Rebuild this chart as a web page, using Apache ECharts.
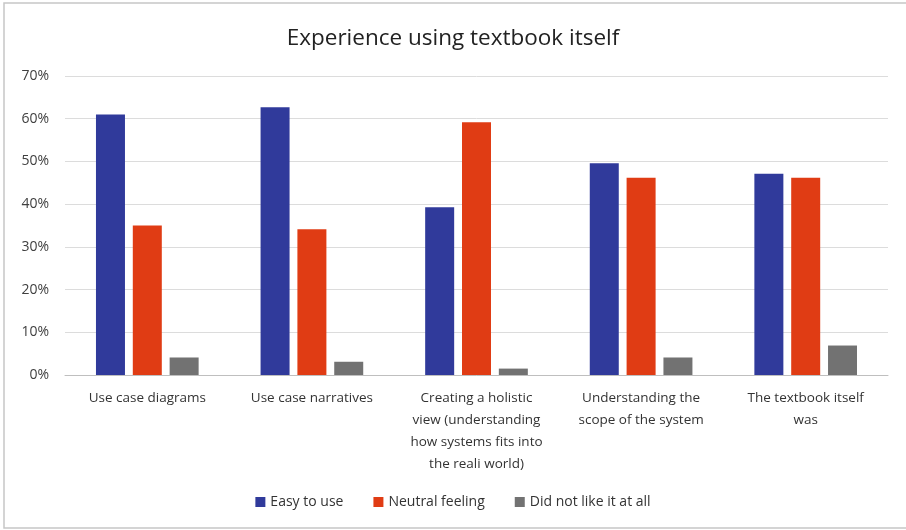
<!DOCTYPE html>
<html>
<head>
<meta charset="utf-8">
<script src="https://cdn.jsdelivr.net/npm/echarts@6/dist/echarts.min.js"></script>
<style>
  html, body { margin: 0; padding: 0; background: #ffffff; }
  #chart { width: 906px; height: 530px; }
</style>
</head>
<body>
<div id="chart"></div>
<script>
// Survey aspects (x-axis categories)
const categories = [
  'Use case diagrams',
  'Use case narratives',
  'Creating a holistic\nview (understanding\nhow systems fits into\nthe reali world)',
  'Understanding the\nscope of the system',
  'The textbook itself\nwas'
];

// Share of respondents per answer, in percent
const easyToUse = [61, 62.7, 39.3, 49.6, 47.1];
const neutralFeeling = [35, 34.1, 59.2, 46.2, 46.2];
const didNotLike = [4.1, 3.1, 1.5, 4.1, 6.9];

// Y-axis ticks, in percent
const yTicks = [0, 10, 20, 30, 40, 50, 60, 70];

const seriesNames = ['Easy to use', 'Neutral feeling', 'Did not like it at all'];
const seriesColors = ['#303a9b', '#e03c14', '#727272'];
const seriesData = [easyToUse, neutralFeeling, didNotLike];

const FONT = "'Open Sans', 'Liberation Sans', sans-serif";

const chart = echarts.init(document.getElementById('chart'), null, { renderer: 'canvas' });

chart.setOption({
  animation: false,
  backgroundColor: '#ffffff',
  graphic: [{
    type: 'rect',
    shape: { x: 4, y: 3, width: 910, height: 525 },
    style: { fill: 'none', stroke: '#c6c6c6', lineWidth: 1.5 },
    silent: true
  }],
  title: {
    text: 'Experience using textbook itself',
    left: 'center',
    top: 22,
    textStyle: { fontFamily: FONT, fontSize: 22.5, fontWeight: 'normal', color: '#222222' }
  },
  legend: {
    bottom: 16,
    left: 'center',
    itemWidth: 10,
    itemHeight: 10,
    itemGap: 30,
    icon: 'rect',
    textStyle: { fontFamily: FONT, fontSize: 14, color: '#333333' },
    data: seriesNames
  },
  grid: { left: 65, right: 18, top: 76, bottom: 155, containLabel: false },
  xAxis: {
    type: 'category',
    data: categories,
    axisLine: { lineStyle: { color: '#bfbfbf', width: 1 } },
    axisTick: { show: false },
    axisLabel: {
      interval: 0,
      margin: 12,
      fontFamily: FONT,
      fontSize: 13.5,
      lineHeight: 22,
      color: '#333333',
      align: 'center'
    }
  },
  yAxis: {
    type: 'value',
    min: yTicks[0],
    max: yTicks[yTicks.length - 1],
    interval: yTicks[1] - yTicks[0],
    axisLine: { show: false },
    axisTick: { show: false },
    splitLine: { lineStyle: { color: '#dcdcdc', width: 1 } },
    axisLabel: {
      margin: 16,
      fontFamily: FONT,
      fontSize: 14,
      color: '#404040',
      formatter: v => v + '%'
    }
  },
  series: seriesNames.map((name, i) => ({
    name: name,
    type: 'bar',
    data: seriesData[i],
    barWidth: 29,
    barGap: '27%',
    itemStyle: { color: seriesColors[i] }
  }))
});
</script>
</body>
</html>
